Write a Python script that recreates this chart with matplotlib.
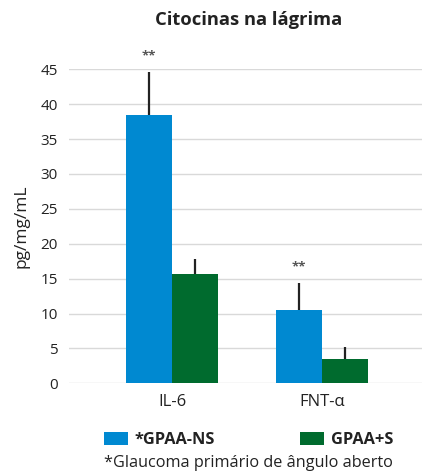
import numpy as np
import matplotlib.pyplot as plt

plt.rcParams['font.family'] = ['Open Sans', 'DejaVu Sans']

# data
categories = ['IL-6', 'FNT-α']
series_names = ['*GPAA-NS', 'GPAA+S']
gpaa_ns = [38.4, 10.5]
gpaa_ns_err = [6.2, 3.9]
gpaa_s = [15.6, 3.5]
gpaa_s_err = [2.2, 1.7]
signif = ['**', '**']
yticks = [0, 5, 10, 15, 20, 25, 30, 35, 40, 45]

blue = '#0089d1'
green = '#006b2e'
txt = '#222222'

fig = plt.figure(figsize=(4.22, 4.73), dpi=100)
ax = fig.add_axes([0.1635, 0.1896, 0.8365, 0.664])

x = np.arange(len(categories))
w = 0.307
err_kw = dict(ecolor='#222222', elinewidth=1.6, capsize=0)
b1 = ax.bar(x - w / 2, gpaa_ns, w, color=blue, label=series_names[0], zorder=2,
            yerr=[np.zeros(len(x)), gpaa_ns_err], error_kw=err_kw)
b2 = ax.bar(x + w / 2, gpaa_s, w, color=green, label=series_names[1], zorder=2,
            yerr=[np.zeros(len(x)), gpaa_s_err], error_kw=err_kw)

# significance stars above the blue bars
for xi, v, e, s in zip(x, gpaa_ns, gpaa_ns_err, signif):
    ax.text(xi - w / 2, v + e + 2.3, s, ha='center', va='center',
            fontsize=9.5, color='#555555', fontweight='bold')

ax.set_xlim(-0.687, 1.667)
ax.set_ylim(0, 45)
ax.set_yticks(yticks)
ax.set_xticks(x)
ax.set_xticklabels(categories, fontsize=12)
ax.tick_params(axis='y', labelsize=11, length=0, pad=8, colors=txt)
ax.tick_params(axis='x', length=0, pad=8, colors=txt)
ax.grid(axis='y', color='#d9d9d9', linewidth=1, zorder=0)
ax.set_axisbelow(True)
for sp in ax.spines.values():
    sp.set_visible(False)

ax.set_ylabel('pg/mg/mL', fontsize=12.5, color=txt, labelpad=8)

fig.text(0.588, 0.957, 'Citocinas na lágrima', ha='center', va='center',
         fontsize=13.2, fontweight='bold', color=txt)

leg = fig.legend(handles=[b1, b2], loc='center left', bbox_to_anchor=(0.211, 0.070),
                 ncol=2, frameon=False, handlelength=1.46, handleheight=0.85,
                 handletextpad=0.43, columnspacing=5.2,
                 prop={'weight': 'bold', 'size': 11.8})
for t in leg.get_texts():
    t.set_color(txt)

fig.text(0.588, 0.021, '*Glaucoma primário de ângulo aberto', ha='center', va='center',
         fontsize=11.7, color=txt)

fig.savefig('out.png', dpi=100)
